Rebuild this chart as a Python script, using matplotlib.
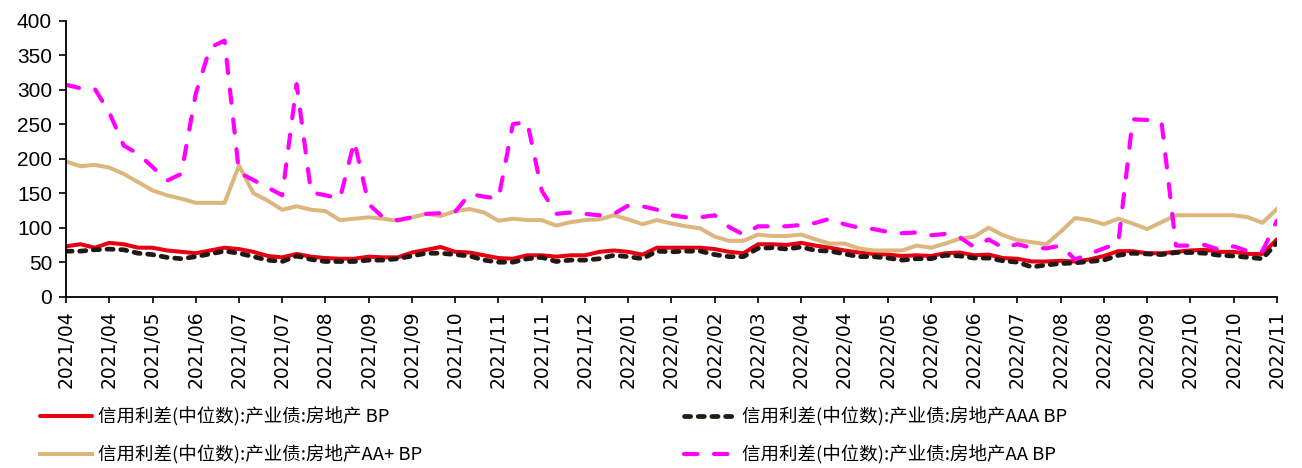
import matplotlib
matplotlib.use('Agg')
import matplotlib.pyplot as plt
import numpy as np

plt.rcParams['font.family'] = ['Noto Sans CJK SC', 'DejaVu Sans']

# weekly data, 2021/04 -> 2022/11, one tick label every 3 weeks
tick_labels = ['2021/04', '2021/04', '2021/05', '2021/06', '2021/07', '2021/07', '2021/08',
               '2021/09', '2021/09', '2021/10', '2021/11', '2021/11', '2021/12', '2022/01',
               '2022/01', '2022/02', '2022/03', '2022/04', '2022/04', '2022/05', '2022/06',
               '2022/06', '2022/07', '2022/08', '2022/08', '2022/09', '2022/10', '2022/10',
               '2022/11']

spread_all = [73, 76, 71, 78, 76, 71, 71, 67, 65, 63, 67, 71, 69, 65, 59, 57, 62, 58, 56, 55,
              55, 58, 57, 57, 64, 68, 72, 65, 64, 60, 56, 55, 60, 60, 58, 60, 60, 65, 67, 65,
              61, 71, 71, 71, 71, 69, 65, 63, 76, 76, 75, 78, 74, 71, 67, 64, 62, 61, 59, 60,
              59, 63, 64, 60, 61, 56, 55, 51, 51, 52, 51, 54, 59, 66, 66, 63, 63, 65, 67, 68,
              65, 65, 62, 62, 83]
spread_aaa = [66, 66, 68, 69, 68, 63, 61, 57, 55, 58, 62, 66, 63, 58, 53, 51, 59, 54, 51, 51,
              51, 53, 53, 55, 59, 63, 63, 61, 59, 53, 50, 50, 55, 57, 51, 53, 53, 55, 60, 58,
              55, 66, 65, 66, 66, 61, 58, 58, 70, 71, 69, 72, 67, 66, 62, 58, 58, 56, 53, 55,
              55, 60, 59, 56, 56, 52, 50, 43, 46, 48, 49, 51, 53, 60, 63, 62, 61, 64, 64, 63,
              60, 59, 57, 55, 78]
spread_aap = [196, 189, 191, 187, 178, 166, 154, 147, 142, 136, 136, 136, 190, 150, 139, 126,
              131, 126, 124, 111, 113, 115, 113, 110, 115, 120, 117, 124, 127, 122, 110, 113,
              111, 111, 103, 108, 111, 112, 118, 112, 105, 111, 106, 102, 99, 87, 81, 81, 90,
              88, 88, 90, 83, 77, 77, 70, 67, 67, 67, 74, 71, 77, 84, 87, 100, 89, 82, 79, 76,
              94, 114, 111, 105, 113, 106, 98, 108, 118, 118, 118, 118, 118, 115, 107, 127]
spread_aa = [307, 302, 301, 267, 219, 207, 188, 168, 178, 294, 361, 371, 180, 169, 158, 147,
             308, 151, 147, 142, 225, 134, 115, 111, 115, 120, 121, 123, 149, 145, 142, 250,
             253, 154, 120, 122, 120, 118, 120, 132, 131, 126, 118, 115, 115, 118, 101, 90,
             102, 102, 102, 104, 107, 113, 105, 100, 98, 94, 92, 93, 89, 91, 86, 72, 83, 71,
             76, 71, 70, 74, 54, 62, 70, 78, 257, 256, 253, 74, 74, 75, 68, 73, 66, 66, 110]

labels = ['信用利差(中位数):产业债:房地产 BP',
          '信用利差(中位数):产业债:房地产AAA BP',
          '信用利差(中位数):产业债:房地产AA+ BP',
          '信用利差(中位数):产业债:房地产AA BP']

x = np.arange(len(spread_all))

fig = plt.figure(figsize=(13.02, 4.68), dpi=100)
ax = fig.add_axes([0.0507, 0.366, 0.930, 0.590])

l1, = ax.plot(x, spread_all, color='#E60012', lw=2.9, solid_capstyle='round')
l2, = ax.plot(x, spread_aaa, color='#231815', lw=3.4, dashes=(1.3, 1.6),
              dash_capstyle='round')
l3, = ax.plot(x, spread_aap, color='#DDB67E', lw=2.9)
l4, = ax.plot(x, spread_aa, color='#FF00FF', lw=3.0, dashes=(3.2, 4.0),
              dash_capstyle='round')

ax.set_xlim(0, len(x) - 1)
ax.set_ylim(0, 400)
ax.set_yticks(np.arange(0, 401, 50))
ax.set_xticks(x[::3])
ax.set_xticklabels(tick_labels, rotation=90, fontsize=13.5, family='DejaVu Sans')
for t in ax.get_yticklabels():
    t.set_fontfamily('Liberation Sans')
    t.set_fontsize(15)

ax.spines['top'].set_visible(False)
ax.spines['right'].set_visible(False)
ax.spines['left'].set_linewidth(1.3)
ax.spines['bottom'].set_linewidth(1.3)
ax.tick_params(axis='y', direction='out', length=5, width=1.2, pad=5)
ax.tick_params(axis='x', direction='out', length=4, width=1.2, pad=6)

fig.legend([l1, l3, l2, l4], [labels[0], labels[2], labels[1], labels[3]],
           ncol=2, loc='upper left', bbox_to_anchor=(0.0307, 0.130), frameon=False,
           fontsize=13.3, handlelength=2.8, handletextpad=0.32, columnspacing=14.2,
           labelspacing=1.0, borderaxespad=0, borderpad=0)

fig.savefig('out.png', dpi=100)
